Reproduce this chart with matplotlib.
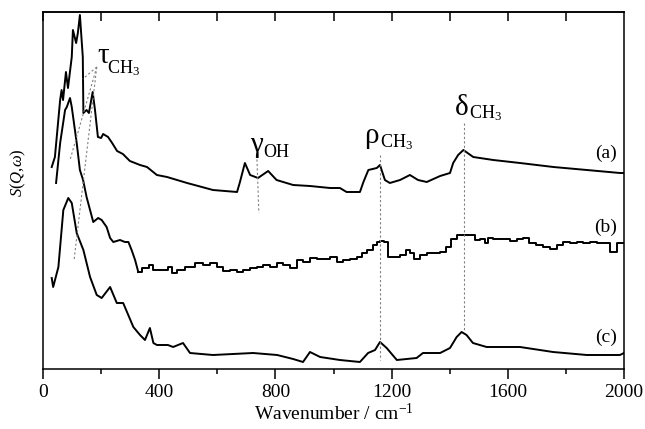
import matplotlib
matplotlib.use("Agg")
import matplotlib.pyplot as plt
import numpy as np

plt.rcParams['font.family'] = ['Liberation Serif', 'DejaVu Serif']
plt.rcParams['mathtext.fontset'] = 'custom'
plt.rcParams['mathtext.rm'] = 'Liberation Serif'
plt.rcParams['mathtext.it'] = 'Liberation Serif:italic'

# ---- data (wavenumber in cm-1, intensity in arbitrary units) ----
wa = [30, 41, 59, 64, 69, 79, 86, 99, 103, 114, 120, 127, 137, 139, 150, 158, 171, 179, 189, 200, 207,
      224, 238, 255, 275, 299, 334, 358, 392, 427, 496, 585, 668, 678, 695, 713, 740, 775, 804, 861,
      919, 988, 1022, 1045, 1091, 1103, 1120, 1149, 1160, 1177, 1194, 1229, 1263, 1291, 1321, 1367,
      1401, 1412, 1429, 1447, 1481, 1550, 1642, 1757, 1872, 1986, 2000]
ia = [202, 212, 269, 279, 269, 297, 281, 312, 339, 326, 336, 354, 312, 256, 259, 256, 277, 259, 232, 231, 235,
      232, 226, 218, 215, 208, 204, 202, 194, 192, 186, 179, 177, 187, 206, 194, 191, 198, 189, 184,
      183, 181, 181, 177, 177, 187, 199, 201, 204, 189, 186, 189, 194, 189, 187, 193,
      196, 206, 214, 219, 212, 209, 206, 202, 199, 196, 196]

wb = [45, 59, 76, 82, 93, 99, 116, 127, 138, 150, 162, 173, 190, 202, 219, 231, 242, 265, 282, 294,
      305, 317, 328, 357, 374, 386, 426, 437, 449, 472, 506, 540, 563, 586, 609, 632, 655, 678,
      701, 724, 747, 770, 793, 816, 839, 862, 885, 908, 930, 954, 977, 999, 1022, 1045, 1068,
      1091, 1108, 1126, 1143, 1154, 1166, 1183, 1194, 1217, 1240, 1257, 1269, 1286, 1309, 1332,
      1355, 1378, 1395, 1412, 1435, 1459, 1481, 1493, 1516, 1527, 1539, 1562, 1596, 1619, 1642,
      1665, 1682, 1711, 1734, 1757, 1780, 1803, 1825, 1849, 1872, 1894, 1917, 1940, 1963, 1986,
      2000]
ib = [186, 226, 259, 262, 271, 262, 226, 199, 189, 172, 159, 147, 151, 149, 142, 131, 127, 129, 127, 127,
      119, 109, 97, 101, 104, 99, 99, 102, 96, 99, 102, 106, 104, 106, 102, 98, 99, 97,
      99, 101, 102, 104, 102, 106, 104, 101, 109, 107, 111, 110, 110, 112, 107, 109, 110,
      112, 116, 119, 124, 127, 128, 127, 112, 112, 114, 119, 116, 110, 114, 116,
      116, 117, 122, 130, 134, 134, 134, 129, 130, 126, 131, 130, 130, 128, 130,
      131, 126, 124, 122, 120, 124, 127, 126, 127, 126, 127, 126, 126, 117, 126,
      126]

wc = [30, 35, 53, 70, 87, 99, 116, 139, 162, 185, 202, 231, 254, 276, 311, 334, 351, 368, 380, 392, 430,
      448, 482, 506, 585, 723, 806, 861, 895, 919, 954, 1022, 1091, 1119, 1143, 1160, 1183, 1218,
      1286, 1308, 1367, 1401, 1424, 1441, 1458, 1480, 1527, 1642, 1756, 1872, 1986, 2000]
ic = [91, 82, 102, 159, 171, 166, 136, 119, 92, 74, 71, 82, 66, 66, 42, 34, 29, 41, 26, 24, 24,
      22, 26, 16, 14, 16, 14, 10, 7, 17, 12, 9, 7, 16, 19, 27, 21, 9,
      11, 16, 16, 21, 32, 37, 34, 26, 22, 22, 17, 14, 14, 16]

xticks_major = [0, 400, 800, 1200, 1600, 2000]
xticks_minor = [200, 600, 1000, 1400, 1800]
series_labels = ['(a)', '(b)', '(c)']

fig = plt.figure(figsize=(6.45, 4.29), dpi=100)
ax = fig.add_axes([43 / 645, 1 - 369 / 429, 581 / 645, 357 / 429])

ax.plot(wa, ia, color='black', lw=1.4)
# spectrum (b): finely sampled at low energy, coarse binned (steps) at high energy
wb_arr, ib_arr = np.asarray(wb), np.asarray(ib)
lo = wb_arr <= 328
hi = wb_arr >= 328
ax.plot(wb_arr[lo], ib_arr[lo], color='black', lw=1.4)
ax.plot(wb_arr[hi], ib_arr[hi], color='black', lw=1.4, drawstyle='steps-mid')
ax.plot(wc, ic, color='black', lw=1.4)

ax.set_xlim(0, 2000)
ax.set_ylim(0, 357)

# dotted guide lines
dot = dict(color='gray', lw=0.8, ls=(0, (2, 2)))
ax.plot([185, 137], [302, 290], **dot)
ax.plot([185, 93], [302, 209], **dot)
ax.plot([185, 107], [302, 109], **dot)
ax.plot([736, 743], [214, 156], **dot)
ax.plot([1160, 1160], [214, 9], **dot)
ax.plot([1450, 1450], [246, 37], **dot)

# mode labels
ax.text(186, 306, 'τ', fontsize=21, ha='left', va='baseline')
ax.text(222, 296, r'CH$_3$', fontsize=13, ha='left', va='baseline')
ax.text(713, 217, 'γ', fontsize=21, ha='left', va='baseline')
ax.text(757, 212, 'OH', fontsize=13, ha='left', va='baseline')
ax.text(1106, 226, 'ρ', fontsize=21, ha='left', va='baseline')
ax.text(1160, 222, r'CH$_3$', fontsize=13, ha='left', va='baseline')
ax.text(1418, 254, 'δ', fontsize=21, ha='left', va='baseline')
ax.text(1465, 251, r'CH$_3$', fontsize=13, ha='left', va='baseline')

for lab, yv in zip(series_labels, [216, 142, 32]):
    ax.text(1976, yv, lab, fontsize=14, ha='right', va='center')

# axes styling
for s in ax.spines.values():
    s.set_linewidth(1.1)
ax.set_xticks(xticks_major)
ax.set_xticks(xticks_minor, minor=True)
ax.tick_params(axis='x', which='major', direction='out', length=7, width=1.1, labelsize=14, pad=4)
ax.tick_params(axis='x', which='minor', direction='out', length=3.5, width=1.1)
ax.set_yticks([])

top = ax.secondary_xaxis('top')
top.set_xticks(xticks_major[:-1] + xticks_minor)
top.tick_params(direction='in', length=6.5, width=1.1, labeltop=False)
top.spines['top'].set_linewidth(1.1)

ax.set_xlabel(r'Wavenumber / cm$^{-1}$', fontsize=14, labelpad=1)
ax.set_ylabel(r'$\it{S}$($\it{Q}$,$\it{\omega}$)', fontsize=12)
ax.yaxis.set_label_coords(-0.026, 0.55)

fig.savefig('out.png', dpi=100)
